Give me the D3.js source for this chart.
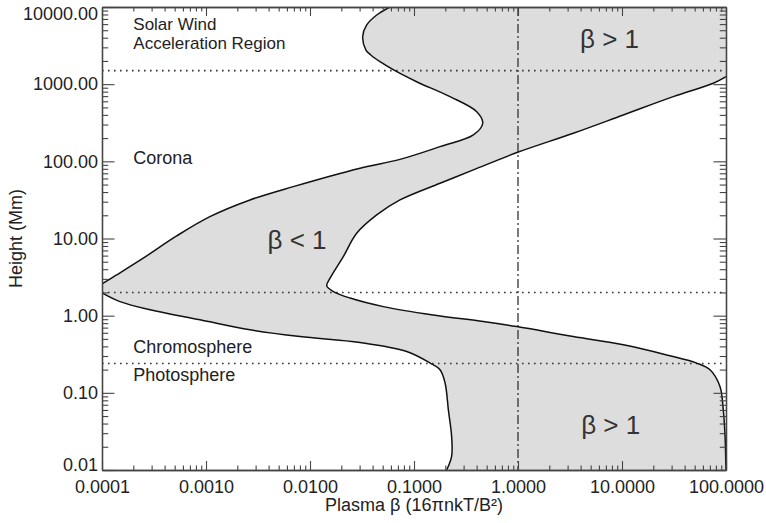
<!DOCTYPE html>
<html>
<head>
<meta charset="utf-8">
<script src="https://cdn.jsdelivr.net/npm/d3@7"></script>
<style>
  html, body { margin: 0; padding: 0; background: #fff; }
  svg { display: block; font-family: "Liberation Sans", Arial, Helvetica, sans-serif; }
</style>
</head>
<body>
<svg id="chart" width="766" height="523"></svg>
<script>
// ---------- data ----------
// Upper-left boundary of the beta<1 region, from top of plot down to the left axis  [beta, height Mm]
const upperBoundary = [
  [0.0587, 10000], [0.0438, 7870], [0.0351, 5850], [0.0321, 4120], [0.0345, 2770],
  [0.0384, 2390], [0.0471, 1955], [0.0656, 1496], [0.106, 1076], [0.222, 689],
  [0.401, 440], [0.458, 312], [0.372, 220], [0.178, 155], [0.0733, 106],
  [0.0303, 81.5], [0.0069, 47], [0.00265, 31.6], [0.00109, 19.2], [0.000522, 10.8],
  [0.000249, 5.56], [0.000138, 3.37], [0.0001, 2.58]
];
// Lower-left boundary, from the left axis down to the bottom of plot
const lowerBoundary = [
  [0.0001, 1.97], [0.000149, 1.52], [0.00029, 1.19], [0.000875, 0.883], [0.00265, 0.655],
  [0.00802, 0.536], [0.0303, 0.449], [0.0851, 0.343], [0.143, 0.243], [0.178, 0.199],
  [0.199, 0.134], [0.214, 0.0603], [0.230, 0.0272], [0.230, 0.0150], [0.206, 0.01]
];
// Right boundary (nose), from right axis at top down to bottom right corner
const rightBoundary = [
  [100, 1250], [75.5, 1027], [31.1, 689], [10.3, 399], [3.40, 231], [0.978, 130],
  [0.372, 77.4], [0.178, 52], [0.0733, 31.6], [0.0438, 20.2], [0.0281, 11.7],
  [0.0209, 5.83], [0.0156, 3.06], [0.0145, 2.43], [0.0168, 2.05], [0.0243, 1.69],
  [0.0507, 1.31], [0.153, 1.02], [0.463, 0.84], [0.972, 0.723], [3.40, 0.536],
  [10.3, 0.419], [26.9, 0.310], [52.2, 0.243], [70.2, 0.199], [87.5, 0.121],
  [94.2, 0.060], [98, 0.027], [99.5, 0.013], [100, 0.01]
];
// Reference lines
const layerHeights = [1500, 2.0, 0.24];   // dotted horizontal lines (Mm)
const betaUnity = 1;                       // dash-dot vertical line
// Tick labels
const xTickValues = [0.0001, 0.001, 0.01, 0.1, 1, 10, 100];
const xTickLabels = ["0.0001", "0.0010", "0.0100", "0.1000", "1.0000", "10.0000", "100.0000"];
const yTickValues = [0.01, 0.1, 1, 10, 100, 1000, 10000];
const yTickLabels = ["0.01", "0.10", "1.00", "10.00", "100.00", "1000.00", "10000.00"];
// Region labels (each entry may hold several lines)
const regionLabels = [
  { lines: ["Solar Wind", "Acceleration Region"], beta: 0.0002, h: [5035, 2858], size: 17 },
  { lines: ["Corona"], beta: 0.0002, h: [92.5], size: 18 },
  { lines: ["Chromosphere"], beta: 0.0002, h: [0.33], size: 18 },
  { lines: ["Photosphere"], beta: 0.0002, h: [0.142], size: 18 }
];
const betaLabels = [
  { text: "\u03B2 < 1", beta: 0.0039, h: 7.33 },
  { text: "\u03B2 > 1", beta: 3.95, h: 2945 },
  { text: "\u03B2 > 1", beta: 4.05, h: 0.0294 }
];

// ---------- layout ----------
const L = 102, R = 726, T = 7, B = 470;
const svg = d3.select("#chart");
const x = d3.scaleLog().domain([1e-4, 100]).range([L, R]);
const y = d3.scaleLog().domain([0.01, 10000]).range([B, T]);
const ink = "#222";

svg.append("defs").append("clipPath").attr("id", "plotclip")
  .append("rect").attr("x", L).attr("y", T).attr("width", R - L).attr("height", B - T);

const smooth = d3.line().x(d => x(d[0])).y(d => y(d[1])).curve(d3.curveCatmullRom.alpha(0.5));
const straight = d3.line().x(d => x(d[0])).y(d => y(d[1]));
const cont = s => s.replace(/^M/, "L");

// shaded region
const xMax = x.domain()[1], yMin = y.domain()[0], yMax = y.domain()[1];
const lastUp = upperBoundary[upperBoundary.length - 1];
const lastLow = lowerBoundary[lowerBoundary.length - 1];
const revRight = rightBoundary.slice().reverse();
const fillPath =
  smooth(upperBoundary) +
  cont(straight([lastUp, lowerBoundary[0]])) +
  cont(smooth(lowerBoundary)) +
  cont(straight([lastLow, [xMax, yMin]])) +
  cont(smooth(revRight)) +
  cont(straight([rightBoundary[0], [xMax, yMax], upperBoundary[0]])) + "Z";

const plot = svg.append("g").attr("clip-path", "url(#plotclip)");
plot.append("path").attr("d", fillPath).attr("fill", "#dddddd").attr("stroke", "none");

// reference lines
plot.selectAll(".hline").data(layerHeights).enter().append("line")
  .attr("x1", L).attr("x2", R).attr("y1", d => y(d)).attr("y2", d => y(d))
  .attr("stroke", "#333").attr("stroke-width", 1.6).attr("stroke-dasharray", "1.6,4.4");
plot.append("line")
  .attr("x1", x(betaUnity)).attr("x2", x(betaUnity)).attr("y1", T).attr("y2", B)
  .attr("stroke", "#333").attr("stroke-width", 1.3).attr("stroke-dasharray", "9,3,2,3");

// boundary curves
[upperBoundary, lowerBoundary, rightBoundary].forEach(c => {
  plot.append("path").attr("d", smooth(c)).attr("fill", "none")
    .attr("stroke", "#111").attr("stroke-width", 1.5);
});

// ---------- axes ----------
const minorX = [], minorY = [];
for (let e = -4; e < 2; e++) for (let k = 2; k <= 9; k++) minorX.push(k * Math.pow(10, e));
for (let e = -2; e < 4; e++) for (let k = 2; k <= 9; k++) minorY.push(k * Math.pow(10, e));

function styleAxis(g) {
  g.selectAll("path.domain").attr("stroke", "#444").attr("stroke-width", 1.3);
  g.selectAll(".tick line").attr("stroke", "#444").attr("stroke-width", 1.1);
  g.selectAll(".tick text").attr("fill", ink).attr("font-size", 18)
    .attr("font-family", "'Liberation Sans', Arial, Helvetica, sans-serif");
}

const xMajLen = 9, yMajLen = 12.5;
// bottom
const gB = svg.append("g").attr("transform", `translate(0,${B})`)
  .call(d3.axisBottom(x).tickValues(xTickValues).tickSizeInner(-xMajLen).tickSizeOuter(0)
    .tickPadding(10).tickFormat((d, i) => xTickLabels[i]));
styleAxis(gB);
const gBm = svg.append("g").attr("transform", `translate(0,${B})`)
  .call(d3.axisBottom(x).tickValues(minorX).tickSizeInner(-xMajLen / 2).tickSizeOuter(0).tickFormat(""));
styleAxis(gBm);
// top
const gTp = svg.append("g").attr("transform", `translate(0,${T})`)
  .call(d3.axisTop(x).tickValues(xTickValues).tickSizeInner(-xMajLen).tickSizeOuter(0).tickFormat(""));
styleAxis(gTp);
const gTm = svg.append("g").attr("transform", `translate(0,${T})`)
  .call(d3.axisTop(x).tickValues(minorX).tickSizeInner(-xMajLen / 2).tickSizeOuter(0).tickFormat(""));
styleAxis(gTm);
// left
const gL = svg.append("g").attr("transform", `translate(${L},0)`)
  .call(d3.axisLeft(y).tickValues(yTickValues).tickSizeInner(-yMajLen).tickSizeOuter(0)
    .tickPadding(4).tickFormat((d, i) => yTickLabels[i]));
styleAxis(gL);
gL.selectAll(".tick text").attr("dy", d => d === yMax ? "0.72em" : (d === yMin ? "0.05em" : "0.32em"));
const gLm = svg.append("g").attr("transform", `translate(${L},0)`)
  .call(d3.axisLeft(y).tickValues(minorY).tickSizeInner(-yMajLen / 2).tickSizeOuter(0).tickFormat(""));
styleAxis(gLm);
// right
const gR = svg.append("g").attr("transform", `translate(${R},0)`)
  .call(d3.axisRight(y).tickValues(yTickValues).tickSizeInner(-yMajLen).tickSizeOuter(0).tickFormat(""));
styleAxis(gR);
const gRm = svg.append("g").attr("transform", `translate(${R},0)`)
  .call(d3.axisRight(y).tickValues(minorY).tickSizeInner(-yMajLen / 2).tickSizeOuter(0).tickFormat(""));
styleAxis(gRm);

// ---------- titles ----------
svg.append("text").attr("x", (L + R) / 2).attr("y", 511)
  .attr("text-anchor", "middle").attr("font-size", 18).attr("fill", ink)
  .text("Plasma \u03B2 (16\u03C0nkT/B\u00B2)");

svg.append("text").attr("transform", `translate(22,${(T + B) / 2}) rotate(-90)`)
  .attr("text-anchor", "middle").attr("font-size", 18).attr("fill", ink).text("Height (Mm)");

// region labels
const rl = svg.selectAll(".rlab").data(regionLabels).enter().append("text")
  .attr("class", "rlab").attr("font-size", d => d.size).attr("fill", ink);
rl.selectAll("tspan").data(d => d.lines.map((t, i) => ({ t, beta: d.beta, h: d.h[i] })))
  .enter().append("tspan")
  .attr("x", d => x(d.beta)).attr("y", d => y(d.h)).text(d => d.t);

svg.selectAll(".blab").data(betaLabels).enter().append("text")
  .attr("class", "blab")
  .attr("x", d => x(d.beta)).attr("y", d => y(d.h))
  .attr("font-size", 26).attr("fill", "#333").text(d => d.text);
</script>
</body>
</html>
